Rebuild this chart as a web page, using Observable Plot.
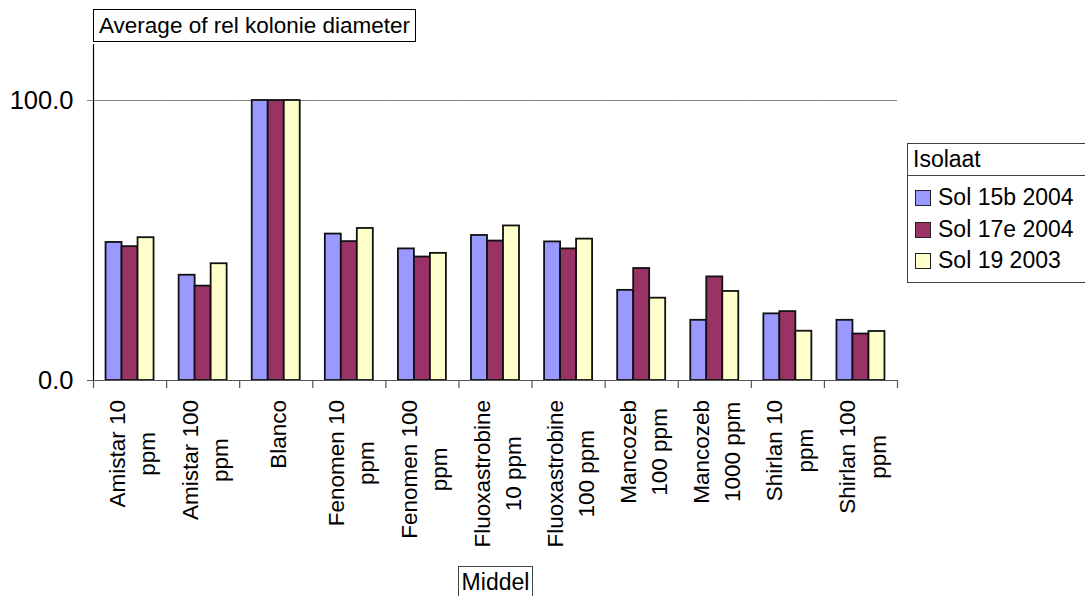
<!DOCTYPE html>
<html><head><meta charset="utf-8">
<script src="https://cdn.jsdelivr.net/npm/d3@7"></script>
<script src="https://cdn.jsdelivr.net/npm/@observablehq/plot@0.6"></script>
<style>
body{margin:0;background:#fff;font-family:"Liberation Sans",Arial,sans-serif;}
#wrap{position:relative;width:1085px;height:596px;overflow:hidden;background:#fff;}
#wrap svg{position:absolute;left:0;top:0;}
.box{position:absolute;border:1px solid #000;background:#fff;font-size:23px;color:#000;box-sizing:border-box;}
.sw{display:inline-block;width:16px;height:16px;border:1px solid #222;box-sizing:border-box;margin-right:7px;vertical-align:-1px;}
</style></head><body>
<div id="wrap"></div>
<script>
const categories = ["Amistar 10 ppm","Amistar 100 ppm","Blanco","Fenomen 10 ppm","Fenomen 100 ppm","Fluoxastrobine 10 ppm","Fluoxastrobine 100 ppm","Mancozeb 100 ppm","Mancozeb 1000 ppm","Shirlan 10 ppm","Shirlan 100 ppm"];
const categoryLabels = ["Amistar 10\nppm","Amistar 100\nppm","Blanco","Fenomen 10\nppm","Fenomen 100\nppm","Fluoxastrobine\n10 ppm","Fluoxastrobine\n100 ppm","Mancozeb\n100 ppm","Mancozeb\n1000 ppm","Shirlan 10\nppm","Shirlan 100\nppm"];
const seriesNames = ["Sol 15b 2004","Sol 17e 2004","Sol 19 2003"];
const seriesColors = ["#9999FF","#993366","#FFFFCC"];
const sol15b = [49.3, 37.6, 100, 52.3, 47.0, 51.8, 49.5, 32.2, 21.5, 23.8, 21.5];
const sol17e = [47.8, 33.7, 100, 49.6, 44.1, 49.8, 47.0, 40.0, 37.0, 24.6, 16.6];
const sol19  = [51.0, 41.7, 100, 54.3, 45.4, 55.2, 50.5, 29.4, 31.8, 17.6, 17.5];
const yTicks = [0, 100];
const titleText = "Average of rel kolonie diameter";
const legendTitle = "Isolaat";
const xTitle = "Middel";

const seriesValues = [sol15b, sol17e, sol19];
const table = [];
categories.forEach((c, i) => seriesNames.forEach((s, j) => table.push({cat: c, series: s, value: seriesValues[j][i]})));
const labelOf = new Map(categories.map((c, i) => [c, categoryLabels[i]]));

const W = 1085, H = 596;
const mL = 93, mR = 188, mT = 44, mB = 216;
const cell = (W - mL - mR) / categories.length;
const pOuter = 0.784;
const step = cell / (seriesNames.length + 2 * pOuter);
const edge = pOuter * step + step / 2; // distance from first bar centre to cell edge

const chart = Plot.plot({
  width: W, height: H,
  marginLeft: mL, marginRight: mR, marginTop: mT, marginBottom: mB,
  style: {fontFamily: "Liberation Sans, Arial, sans-serif", background: "transparent", overflow: "visible"},
  fx: {domain: categories, paddingInner: 0, paddingOuter: 0, round: false, axis: null, label: null},
  x: {domain: seriesNames, paddingInner: 0, paddingOuter: pOuter, round: false, axis: null},
  y: {domain: [0, 120], axis: null},
  color: {domain: seriesNames, range: seriesColors},
  marks: [
    Plot.ruleY([100], {stroke: "#808080", strokeWidth: 1}),
    Plot.barY(table, {fx: "cat", x: "series", y: "value", fill: "series", stroke: "#111", strokeWidth: 1.8}),
    Plot.ruleY([0], {stroke: "#555", strokeWidth: 1.2}),
    Plot.ruleX(categories, {fx: d => d, x: () => seriesNames[0], y1: -2.9, y2: 0, dx: -edge, stroke: "#555", strokeWidth: 1.2}),
    Plot.ruleX([categories[categories.length - 1]], {fx: d => d, x: () => seriesNames[seriesNames.length - 1], y1: -2.9, y2: 0, dx: edge, stroke: "#555", strokeWidth: 1.2}),
    Plot.ruleX([categories[0]], {fx: d => d, x: () => seriesNames[0], y1: 0, y2: 120, dx: -edge, stroke: "#000", strokeWidth: 1.2}),
    Plot.axisY([0], {tickFormat: d => d.toFixed(1), tickSize: 6, tickPadding: 14, fontSize: 25.5, stroke: "#555", label: null}),
    Plot.axisY([100], {tickFormat: d => d.toFixed(1), tickSize: 6, tickPadding: 14, fontSize: 25.5, stroke: "#808080", label: null}),
    Plot.text(categories, {fx: d => d, text: d => labelOf.get(d), frameAnchor: "bottom", rotate: -90, textAnchor: "middle", lineAnchor: "middle", lineHeight: 1.36, fontSize: 22.5, fill: "#000"})
  ]
});
const wrap = document.getElementById("wrap");
wrap.appendChild(chart);

// align each rotated label block so that it starts just below the axis
const svgTop = chart.getBoundingClientRect().top;
const labelTop = 400;
chart.querySelectorAll('text').forEach(t => {
  const tr = t.getAttribute("transform") || "";
  if (!/rotate\(-90\)/.test(tr)) return;
  const r = t.getBoundingClientRect();
  const d = labelTop - (r.top - svgTop);
  t.setAttribute("transform", tr + ` translate(${-d},0)`);
});

// title box
const title = document.createElement("div");
title.className = "box";
Object.assign(title.style, {left: "93px", top: "9px", padding: "0 5px", height: "33px", lineHeight: "31px", whiteSpace: "nowrap", fontSize: "22.5px"});
title.textContent = titleText;
wrap.appendChild(title);

// legend
const legend = document.createElement("div");
legend.className = "box";
Object.assign(legend.style, {left: "907px", top: "143px", width: "200px", height: "140px", borderColor: "#444"});
const head = document.createElement("div");
Object.assign(head.style, {height: "31px", lineHeight: "31px", paddingLeft: "5px", borderBottom: "1px solid #444"});
head.textContent = legendTitle;
legend.appendChild(head);
seriesNames.forEach((s, j) => {
  const row = document.createElement("div");
  Object.assign(row.style, {height: "31.5px", lineHeight: "31.5px", paddingLeft: "7px", whiteSpace: "nowrap", marginTop: j === 0 ? "6px" : "0"});
  const sw = document.createElement("span");
  sw.className = "sw";
  sw.style.background = seriesColors[j];
  row.appendChild(sw);
  row.appendChild(document.createTextNode(s));
  legend.appendChild(row);
});
wrap.appendChild(legend);

// x title box
const xt = document.createElement("div");
xt.className = "box";
Object.assign(xt.style, {left: "458px", top: "566px", width: "75px", height: "40px", lineHeight: "30px", textAlign: "center", borderColor: "#444"});
xt.textContent = xTitle;
wrap.appendChild(xt);
</script>
</body></html>
